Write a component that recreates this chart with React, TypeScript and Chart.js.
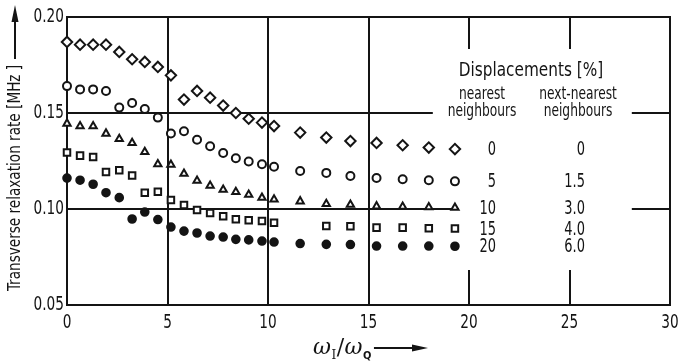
import React, { useEffect, useRef } from 'react';
import { Chart, registerables } from 'chart.js';

Chart.register(...registerables);

const FONT = '"DejaVu Sans Condensed", "DejaVu Sans", sans-serif';
const SERIF = '"DejaVu Serif", "Liberation Serif", serif';
const INK = '#141414';

// omega_I / omega_Q
const xValues = [0, 0.65, 1.3, 1.94, 2.6, 3.24, 3.87, 4.52, 5.17, 5.82, 6.47, 7.12, 7.77, 8.4, 9.04, 9.7, 10.3, 11.6, 12.9, 14.1, 15.4, 16.7, 18.0, 19.3];

// Transverse relaxation rate [MHz]
const disp0 = [0.187, 0.1856, 0.1856, 0.1856, 0.1818, 0.178, 0.1766, 0.174, 0.1696, 0.157, 0.1615, 0.158, 0.1539, 0.150, 0.147, 0.145, 0.1432, 0.1398, 0.1372, 0.1354, 0.1344, 0.1332, 0.132, 0.1312];
const disp5 = [0.164, 0.1623, 0.1623, 0.1615, 0.1528, 0.1552, 0.1521, 0.1476, 0.1393, 0.1405, 0.1361, 0.1327, 0.1292, 0.1264, 0.1247, 0.1233, 0.122, 0.1198, 0.1188, 0.1172, 0.1161, 0.1155, 0.115, 0.1144];
const disp10 = [0.1445, 0.1431, 0.1431, 0.1393, 0.1365, 0.1344, 0.1297, 0.1233, 0.1231, 0.1184, 0.1148, 0.1122, 0.1101, 0.1089, 0.1075, 0.1059, 0.105, 0.104, 0.1026, 0.1023, 0.1014, 0.1012, 0.101, 0.1007];
const disp15 = [0.1294, 0.1278, 0.1271, 0.1193, 0.1202, 0.1174, 0.1085, 0.109, 0.1047, 0.1021, 0.0995, 0.0979, 0.0962, 0.0946, 0.0941, 0.0937, 0.0928, null, 0.0911, 0.091, 0.0903, 0.0903, 0.09, 0.0898];
const disp20 = [0.1161, 0.115, 0.1129, 0.1085, 0.1059, 0.0948, 0.0984, 0.0945, 0.0906, 0.0885, 0.0875, 0.0859, 0.0854, 0.0842, 0.0839, 0.0833, 0.0828, 0.082, 0.0816, 0.0815, 0.0807, 0.0807, 0.0807, 0.0806];

const nearestLabels = ['0', '5', '10', '15', '20'];
const nextNearestLabels = ['0', '1.5', '3.0', '4.0', '6.0'];
const seriesList = [disp0, disp5, disp10, disp15, disp20];

const xMin = 0, xMax = 30, xStep = 5;
const yMin = 0.05, yMax = 0.20, yStep = 0.05;

const legendTitle = 'Displacements [%]';
const yTitle = 'Transverse relaxation rate [MHz ]';

function toPoints(ys: (number | null)[]) {
  return xValues
    .map((x, i) => ({ x, y: ys[i] }))
    .filter((p) => p.y !== null) as { x: number; y: number }[];
}

function lastValue(ys: (number | null)[]) {
  for (let i = ys.length - 1; i >= 0; i--) if (ys[i] !== null) return ys[i] as number;
  return 0;
}

// condensed text: draws real text, squeezed horizontally
function txt(ctx: CanvasRenderingContext2D, text: string, x: number, y: number, font: string, sx: number, align: 'left' | 'center' | 'right') {
  ctx.save();
  ctx.font = font;
  ctx.textBaseline = 'middle';
  ctx.textAlign = 'left';
  const w = ctx.measureText(text).width * sx;
  const left = align === 'left' ? x : align === 'center' ? x - w / 2 : x - w;
  ctx.translate(left, y);
  ctx.scale(sx, 1);
  ctx.fillText(text, 0, 0);
  ctx.restore();
  return w;
}

const NUM_SX = 0.76;
const WORD_SX = 0.85;

const decor = {
  id: 'decor',
  beforeDatasetsDraw(chart: any) {
    const { ctx, chartArea: a, scales } = chart;
    const x = scales.x, y = scales.y;
    ctx.save();
    ctx.strokeStyle = INK;
    ctx.lineWidth = 2;
    const line = (x1: number, y1: number, x2: number, y2: number) => {
      ctx.beginPath();
      ctx.moveTo(x1, y1);
      ctx.lineTo(x2, y2);
      ctx.stroke();
    };
    for (const v of [5, 10, 15]) {
      const px = Math.round(x.getPixelForValue(v));
      line(px, a.top, px, a.bottom);
    }
    for (const v of [20, 25]) {
      const px = Math.round(x.getPixelForValue(v));
      line(px, a.top, px, a.top + 32);
      line(px, a.bottom - 35, px, a.bottom);
    }
    const segs = [
      [0.15, 0, 18.2], [0.15, 28.1, 30],
      [0.10, 0, 19.5], [0.10, 28.1, 30],
    ];
    for (const [yv, x1, x2] of segs) {
      const py = Math.round(y.getPixelForValue(yv));
      line(x.getPixelForValue(x1), py, x.getPixelForValue(x2), py);
    }
    ctx.strokeRect(a.left, a.top, a.right - a.left, a.bottom - a.top);
    ctx.restore();
  },
  afterDraw(chart: any) {
    const { ctx, scales, chartArea: a } = chart;
    const x = scales.x, y = scales.y;
    ctx.save();
    ctx.fillStyle = INK;
    ctx.strokeStyle = INK;

    // tick labels from the library's scales
    for (const t of y.ticks) {
      txt(ctx, Number(t.value).toFixed(2), a.left - 3, y.getPixelForValue(t.value), `20px ${FONT}`, NUM_SX, 'right');
    }
    for (const t of x.ticks) {
      txt(ctx, String(t.value), x.getPixelForValue(t.value), a.bottom + 18, `20px ${FONT}`, NUM_SX, 'center');
    }

    // y title, rotated
    ctx.save();
    ctx.translate(16, 291);
    ctx.rotate(-Math.PI / 2);
    txt(ctx, yTitle, 0, 0, `17px ${FONT}`, 0.89, 'left');
    ctx.restore();
    // y arrow
    ctx.lineWidth = 2;
    ctx.beginPath();
    ctx.moveTo(15, 59);
    ctx.lineTo(15, 18);
    ctx.stroke();
    ctx.beginPath();
    ctx.moveTo(15, 5);
    ctx.lineTo(11.5, 22);
    ctx.lineTo(18.5, 22);
    ctx.closePath();
    ctx.fill();

    // x title: omega_I / omega_Q
    let cx = 313;
    const base = 354;
    ctx.textAlign = 'left';
    ctx.textBaseline = 'alphabetic';
    const big = `italic 22px ${SERIF}`;
    const pieces: [string, string, number][] = [
      ['\u03c9', big, 0], ['I', `12px ${SERIF}`, 5], ['/', `22px ${SERIF}`, 0], ['\u03c9', big, 0], ['Q', `bold 11px ${FONT}`, 5],
    ];
    for (const [t, f, dy] of pieces) {
      ctx.font = f;
      ctx.fillText(t, cx, base + dy);
      cx += ctx.measureText(t).width + 0.5;
    }
    ctx.lineWidth = 2;
    ctx.beginPath();
    ctx.moveTo(cx + 2, 348);
    ctx.lineTo(418, 348);
    ctx.stroke();
    ctx.beginPath();
    ctx.moveTo(428, 348);
    ctx.lineTo(412, 344.5);
    ctx.lineTo(412, 351.5);
    ctx.closePath();
    ctx.fill();

    // legend texts
    txt(ctx, legendTitle, 531, 71, `20px ${FONT}`, WORD_SX, 'center');
    txt(ctx, 'nearest', 482, 95, `17px ${FONT}`, 0.8, 'center');
    txt(ctx, 'neighbours', 482, 112, `17px ${FONT}`, 0.8, 'center');
    txt(ctx, 'next-nearest', 578, 95, `17px ${FONT}`, 0.8, 'center');
    txt(ctx, 'neighbours', 578, 112, `17px ${FONT}`, 0.8, 'center');
    seriesList.forEach((s, i) => {
      const py = y.getPixelForValue(lastValue(s)) + 1;
      txt(ctx, nearestLabels[i], 496, py, `19px ${FONT}`, NUM_SX, 'right');
      txt(ctx, nextNearestLabels[i], 585, py, `19px ${FONT}`, NUM_SX, 'right');
    });
    ctx.restore();
  },
};

export default function App() {
  const ref = useRef<HTMLCanvasElement | null>(null);
  useEffect(() => {
    if (!ref.current) return;
    const mk = (data: (number | null)[], style: string, radius: number, filled: boolean) => ({
      data: toPoints(data),
      pointStyle: style,
      pointRadius: radius,
      pointBorderWidth: 2,
      pointBorderColor: INK,
      pointBackgroundColor: filled ? INK : '#ffffff',
      showLine: false,
      clip: false,
    });
    const chart = new Chart(ref.current, {
      type: 'scatter',
      data: {
        datasets: [
          mk(disp0, 'rectRot', 5.2, false),
          mk(disp5, 'circle', 4, false),
          mk(disp10, 'triangle', 4.2, false),
          mk(disp15, 'rect', 4.6, false),
          mk(disp20, 'circle', 3.8, true),
        ] as any,
      },
      options: {
        animation: false,
        responsive: false,
        devicePixelRatio: 1,
        layout: { padding: { top: 17, right: 12, left: 0, bottom: 0 } },
        plugins: { legend: { display: false }, tooltip: { enabled: false } },
        scales: {
          x: {
            type: 'linear',
            min: xMin,
            max: xMax,
            grid: { display: false },
            border: { display: false },
            ticks: { stepSize: xStep, display: false },
            afterFit: (s: any) => { s.height = 57; },
          },
          y: {
            type: 'linear',
            min: yMin,
            max: yMax,
            grid: { display: false },
            border: { display: false },
            ticks: { stepSize: yStep, display: false },
            afterFit: (s: any) => { s.width = 67; },
          },
        },
      },
      plugins: [decor],
    });
    return () => chart.destroy();
  }, []);
  return (
    <div style={{ position: 'absolute', left: 0, top: 0, width: 682, height: 362, background: '#fff' }}>
      <canvas ref={ref} width={682} height={362} style={{ width: 682, height: 362, display: 'block' }} />
    </div>
  );
}
